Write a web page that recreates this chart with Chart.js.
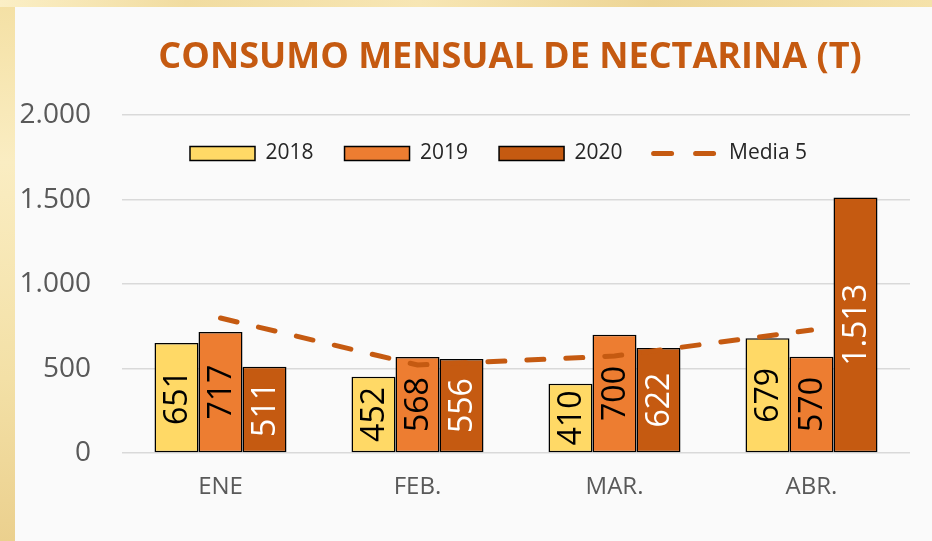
<!DOCTYPE html>
<html>
<head>
<meta charset="utf-8">
<script src="https://cdn.jsdelivr.net/npm/chart.js@4.4.1/dist/chart.umd.min.js"></script>
<style>
  html, body { margin: 0; padding: 0; }
  body { width: 932px; height: 541px; position: relative; overflow: hidden;
    background: linear-gradient(180deg, #F4E0A4 0%, #FAEDC2 30%, #F3E0A6 70%, #EBD08E 100%); }
  #topstrip { position: absolute; left: 0; top: 0; width: 932px; height: 7px;
    background: linear-gradient(90deg, #FBEFC6 0%, #F1DCA0 20%, #F7E6B4 45%, #EDD595 70%, #F5E2AA 100%); }
  #panel { position: absolute; left: 15px; top: 7px; width: 917px; height: 534px; background: #FAFAFA; }
  #wrap { position: absolute; left: 0; top: 0; width: 932px; height: 541px; }
</style>
</head>
<body>
<div id="topstrip"></div>
<div id="panel"></div>
<div id="wrap"><canvas id="c" width="932" height="541"></canvas></div>
<script>
const categories = ['ENE', 'FEB.', 'MAR.', 'ABR.'];
const values2018 = [651, 452, 410, 679];
const values2019 = [717, 568, 700, 570];
const values2020 = [511, 556, 622, 1513];
const media5 = [799, 521, 574, 728];
const seriesNames = ['2018', '2019', '2020', 'Media 5'];
const yTicks = [0, 500, 1000, 1500, 2000];

const FONT = '"Open Sans", "Noto Sans", sans-serif';
const C2018 = '#FFD966', C2019 = '#ED7D31', C2020 = '#C55A11';

function fmt(v) {
  return String(v).replace(/\B(?=(\d{3})+(?!\d))/g, '.');
}

const barLabels = {
  id: 'barLabels',
  afterDatasetsDraw(chart) {
    const ctx = chart.ctx;
    const colors = ['#000000', '#000000', '#FFFFFF'];
    for (let d = 0; d < 3; d++) {
      const meta = chart.getDatasetMeta(d);
      const data = chart.data.datasets[d].data;
      meta.data.forEach((el, i) => {
        const cx = el.x;
        const cy = (el.y + el.base) / 2;
        ctx.save();
        ctx.translate(cx, cy);
        ctx.rotate(-Math.PI / 2);
        ctx.font = '32px ' + FONT;
        ctx.fillStyle = colors[d];
        ctx.textAlign = 'center';
        ctx.textBaseline = 'middle';
        ctx.fillText(fmt(data[i]), 0, 1);
        ctx.restore();
      });
    }
  }
};

// legend floats inside the plot area; title centred over the plot
const placeBoxes = {
  id: 'placeBoxes',
  beforeUpdate(chart) {
    const lg = chart.legend;
    if (lg && !lg._patched) {
      const f = lg.fit;
      lg.fit = function () {
        f.call(this);
        this._realHeight = this.height;
        this.height = 0;
      };
      lg._patched = true;
    }
  },
  afterLayout(chart) {
    const lg = chart.legend;
    if (lg) {
      lg.left = 159; lg.right = 932;
      lg.width = lg.right - lg.left;
      lg.top = 112;
      lg.height = lg._realHeight || 80;
      lg.bottom = lg.top + lg.height;
    }
    const tb = chart.titleBlock;
    if (tb) {
      tb.left += 55; tb.right += 55;
    }
  }
};

const barStyle = { borderColor: '#000', borderWidth: 1.5, borderSkipped: false, order: 2 };

const chart = new Chart(document.getElementById('c'), {
  data: {
    labels: categories,
    datasets: [
      Object.assign({ type: 'bar', label: seriesNames[0], data: values2018, backgroundColor: C2018 }, barStyle),
      Object.assign({ type: 'bar', label: seriesNames[1], data: values2019, backgroundColor: C2019 }, barStyle),
      Object.assign({ type: 'bar', label: seriesNames[2], data: values2020, backgroundColor: C2020 }, barStyle),
      { type: 'line', label: seriesNames[3], data: media5, borderColor: C2020, backgroundColor: C2020,
        borderWidth: 5, borderDash: [17, 22], borderCapStyle: 'round', pointRadius: 0, tension: 0, fill: false, order: 1 }
    ]
  },
  options: {
    responsive: false,
    animation: false,
    events: [],
    layout: { padding: { left: 0, right: 22, top: 0, bottom: 0 } },
    datasets: { bar: { categoryPercentage: 0.67, barPercentage: 1.0 } },
    scales: {
      x: {
        offset: true,
        grid: { display: false, drawTicks: false },
        border: { display: false },
        ticks: { color: '#595959', font: { family: FONT, size: 24 }, padding: 20 },
        afterFit(s) { s.height = 88; }
      },
      y: {
        min: yTicks[0], max: yTicks[yTicks.length - 1],
        grid: { color: '#D9D9D9', lineWidth: 1.5, drawTicks: false },
        border: { display: false },
        ticks: { stepSize: yTicks[1] - yTicks[0], color: '#595959', font: { family: FONT, size: 28 }, padding: 31, callback: v => fmt(v) },
        afterFit(s) { s.width = 122; }
      }
    },
    plugins: {
      tooltip: { enabled: false },
      title: {
        display: true,
        text: 'CONSUMO MENSUAL DE NECTARINA (T)',
        color: C2020,
        font: { family: FONT, size: 36, weight: 'bold' },
        padding: { top: 36, bottom: 36 }
      },
      legend: {
        position: 'top',
        align: 'start',
        labels: {
          color: '#262626',
          font: { family: FONT, size: 21 },
          usePointStyle: true,
          pointStyleWidth: 65,
          boxWidth: 65,
          boxHeight: 14,
          padding: 31,
          sort: (a, b) => a.datasetIndex - b.datasetIndex,
          generateLabels(chart) {
            const items = Chart.defaults.plugins.legend.labels.generateLabels(chart);
            items.forEach((it) => {
              if (it.datasetIndex < 3) {
                it.pointStyle = 'rect';
                it.lineWidth = 1.5;
                it.strokeStyle = '#000';
                it.lineDash = [];
              } else {
                it.pointStyle = 'line';
                it.lineWidth = 5;
                it.strokeStyle = C2020;
                it.lineDash = [18, 24];
                it.lineCap = 'round';
              }
            });
            return items;
          }
        }
      }
    }
  },
  plugins: [barLabels, placeBoxes]
});
</script>
</body>
</html>
